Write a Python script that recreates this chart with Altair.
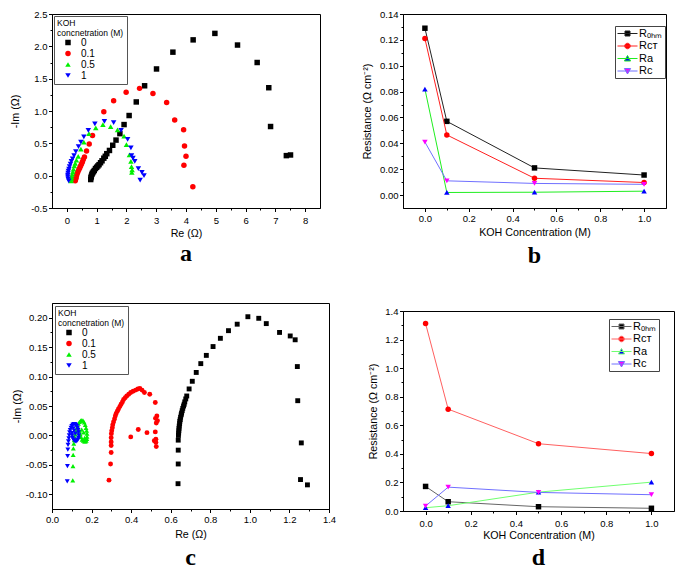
import altair as alt
import pandas as pd

FONT = "Liberation Sans"

# ---------------- panel a : Nyquist (Re, -Im) ----------------
conc_labels = ["0", "0.1", "0.5", "1"]
conc_colors = ["#000000", "#ff0000", "#00f000", "#0000ff"]
conc_shapes = ["square", "circle", "triangle-up", "triangle-down"]

a0 = [(0.80, -0.06), (0.81, -0.03), (0.82, -0.01), (0.84, 0.02), (0.86, 0.04), (0.89, 0.06),
      (0.92, 0.08), (0.96, 0.11), (1.00, 0.13), (1.04, 0.15), (1.08, 0.17), (1.13, 0.20),
      (1.18, 0.23), (1.24, 0.27), (1.29, 0.30), (1.34, 0.34), (1.43, 0.39), (1.54, 0.47),
      (1.65, 0.55), (1.78, 0.65), (1.92, 0.79), (2.09, 0.93), (2.33, 1.14), (2.61, 1.39),
      (3.01, 1.65), (3.56, 1.91), (4.24, 2.10), (4.97, 2.20), (5.73, 2.02), (6.39, 1.75),
      (6.78, 1.36), (6.84, 0.76), (7.37, 0.31), (7.51, 0.32)]
a1 = [(0.28, -0.08), (0.29, -0.06), (0.30, -0.04), (0.31, -0.02), (0.33, 0.01), (0.35, 0.04),
      (0.37, 0.06), (0.40, 0.09), (0.43, 0.12), (0.46, 0.15), (0.49, 0.18), (0.52, 0.21),
      (0.55, 0.25), (0.59, 0.29), (0.66, 0.38), (0.75, 0.49), (0.86, 0.62), (1.24, 0.99),
      (1.57, 1.16), (1.99, 1.29), (2.44, 1.35), (2.89, 1.27), (3.35, 1.13), (3.62, 0.86),
      (3.92, 0.71), (3.95, 0.46), (4.00, 0.30), (3.93, 0.16), (4.23, -0.17)]
a2 = [(0.14, -0.08), (0.15, -0.05), (0.16, -0.02), (0.18, 0.02), (0.20, 0.06), (0.22, 0.10),
      (0.25, 0.15), (0.28, 0.19), (0.32, 0.24), (0.38, 0.30), (0.47, 0.41), (0.57, 0.52),
      (0.74, 0.65), (0.97, 0.74), (1.21, 0.79), (1.47, 0.76), (1.70, 0.71), (1.92, 0.61),
      (2.00, 0.48), (2.10, 0.32), (2.15, 0.22), (2.17, 0.14), (2.19, 0.09), (2.18, 0.05)]
a3 = [(0.06, -0.08), (0.04, -0.05), (0.03, -0.02), (0.03, 0.01), (0.04, 0.04), (0.05, 0.07),
      (0.07, 0.10), (0.09, 0.14), (0.12, 0.18), (0.15, 0.22), (0.19, 0.26), (0.24, 0.31),
      (0.30, 0.37), (0.39, 0.45), (0.47, 0.52), (0.57, 0.60), (0.72, 0.70), (0.94, 0.80),
      (1.26, 0.84), (1.57, 0.82), (1.82, 0.70), (2.04, 0.56), (2.15, 0.43), (2.17, 0.31),
      (2.22, 0.27), (2.28, 0.22), (2.40, 0.11), (2.52, 0.05), (2.59, 0.00), (2.46, -0.07)]
a_xticks = [0, 1, 2, 3, 4, 5, 6, 7, 8]
a_yticks = [-0.5, 0.0, 0.5, 1.0, 1.5, 2.0, 2.5]

# ---------------- panel c : Nyquist ----------------
c0 = [(0.637, -0.082), (0.638, -0.0485), (0.638, -0.025), (0.638, -0.008), (0.639, 0.000),
      (0.640, 0.004), (0.641, 0.008), (0.642, 0.012), (0.643, 0.016), (0.645, 0.020),
      (0.646, 0.024), (0.648, 0.027), (0.650, 0.031), (0.653, 0.035), (0.655, 0.038),
      (0.658, 0.042), (0.661, 0.046), (0.665, 0.050), (0.668, 0.053), (0.671, 0.057),
      (0.676, 0.062), (0.681, 0.067), (0.693, 0.079), (0.709, 0.092), (0.729, 0.107),
      (0.752, 0.122), (0.780, 0.136), (0.814, 0.151), (0.851, 0.165), (0.892, 0.178),
      (0.936, 0.189), (0.990, 0.2017), (1.045, 0.199), (1.083, 0.190), (1.150, 0.175),
      (1.204, 0.169), (1.229, 0.1625), (1.240, 0.117), (1.242, 0.059), (1.260, -0.0127),
      (1.256, -0.075), (1.291, -0.084)]
c1 = [(0.288, -0.076), (0.296, -0.0485), (0.299, -0.029), (0.299, -0.017), (0.299, -0.011),
      (0.299, -0.004), (0.300, 0.003), (0.302, 0.008), (0.305, 0.013), (0.307, 0.018),
      (0.311, 0.023), (0.316, 0.028), (0.320, 0.033), (0.324, 0.037), (0.330, 0.041),
      (0.336, 0.045), (0.343, 0.049), (0.349, 0.053), (0.356, 0.057), (0.362, 0.061),
      (0.370, 0.064), (0.378, 0.067), (0.388, 0.070), (0.398, 0.073), (0.410, 0.075),
      (0.423, 0.077), (0.434, 0.079), (0.444, 0.080), (0.455, 0.077), (0.467, 0.073),
      (0.494, 0.070), (0.522, 0.056), (0.530, 0.033), (0.523, 0.029), (0.533, 0.025),
      (0.527, 0.021), (0.522, 0.006), (0.525, -0.0065), (0.517, -0.009), (0.525, -0.012),
      (0.527, -0.019), (0.436, 0.010), (0.398, -0.0025), (0.480, 0.0047)]
c2 = [(0.105, -0.0765), (0.106, -0.052), (0.107, -0.033), (0.108, -0.022), (0.110, -0.014),
      (0.112, -0.008), (0.115, -0.003), (0.118, 0.002), (0.121, 0.007), (0.125, 0.012),
      (0.129, 0.016), (0.134, 0.020), (0.139, 0.023), (0.145, 0.025), (0.151, 0.026),
      (0.157, 0.025), (0.163, 0.022), (0.168, 0.018), (0.172, 0.013), (0.175, 0.008),
      (0.177, 0.003), (0.177, -0.002), (0.176, -0.006), (0.173, -0.009), (0.169, -0.010),
      (0.164, -0.010), (0.158, -0.009), (0.152, -0.007), (0.147, -0.003), (0.143, 0.002),
      (0.140, 0.007), (0.150, 0.010), (0.160, 0.005), (0.165, -0.004)]
c3 = [(0.077, -0.078), (0.078, -0.052), (0.079, -0.035), (0.080, -0.024), (0.081, -0.016),
      (0.083, -0.010), (0.085, -0.005), (0.087, 0.000), (0.089, 0.005), (0.092, 0.009),
      (0.096, 0.013), (0.100, 0.016), (0.105, 0.018), (0.110, 0.019), (0.115, 0.019),
      (0.120, 0.018), (0.125, 0.016), (0.129, 0.013), (0.132, 0.009), (0.134, 0.005),
      (0.135, 0.000), (0.134, -0.004), (0.131, -0.007), (0.127, -0.009), (0.122, -0.010),
      (0.117, -0.010), (0.112, -0.009), (0.108, -0.007), (0.104, -0.004), (0.102, 0.000),
      (0.101, 0.004), (0.112, 0.008), (0.118, 0.003), (0.108, 0.012)]
c_xticks = [0.0, 0.2, 0.4, 0.6, 0.8, 1.0, 1.2, 1.4]
c_yticks = [-0.10, -0.05, 0.00, 0.05, 0.10, 0.15, 0.20]

# ---------------- panels b, d : resistance vs KOH ----------------
koh = [0.0, 0.1, 0.5, 1.0]
res_names = ["R\u2092\u2095\u2098", "R\u1d04\u1d1b", "Ra", "Rc"]
marker_colors = ["#000000", "#ff0000", "#0000ff", "#ff00ff"]
marker_shapes = ["square", "circle", "triangle-up", "triangle-down"]

b_rohm = [0.129, 0.057, 0.021, 0.0155]
b_rct = [0.121, 0.0465, 0.013, 0.0097]
b_ra = [0.082, 0.002, 0.0022, 0.003]
b_rc = [0.041, 0.011, 0.009, 0.0083]
b_line_colors = ["#222222", "#ff2020", "#20ee20", "#7070ff"]
b_yticks = [0.00, 0.02, 0.04, 0.06, 0.08, 0.10, 0.12, 0.14]

d_rohm = [0.172, 0.065, 0.030, 0.019]
d_rct = [1.312, 0.713, 0.471, 0.402]
d_ra = [0.023, 0.037, 0.132, 0.202]
d_rc = [0.035, 0.167, 0.130, 0.114]
d_line_colors = ["#666666", "#ff6060", "#70ff70", "#7070ff"]
d_yticks = [0.0, 0.2, 0.4, 0.6, 0.8, 1.0, 1.2, 1.4]

koh_xticks = [0.0, 0.2, 0.4, 0.6, 0.8, 1.0]

# legend symbols: short line with marker (unit box scaled by sqrt(size)/2)
legend_paths = [
    "M-2,0L2,0M-0.5,-0.5L0.5,-0.5L0.5,0.5L-0.5,0.5Z",
    "M-2,0L2,0M0.55,0A0.55,0.55,0,1,1,-0.55,0A0.55,0.55,0,1,1,0.55,0Z",
    "M-2,0L2,0M0,-0.6L0.62,0.5L-0.62,0.5Z",
    "M-2,0L2,0M0,0.6L0.62,-0.5L-0.62,-0.5Z",
]

INDEP = dict(color="independent", shape="independent", fill="independent", stroke="independent")


def mk_axis(majors, fmt, label_pad, title_pad):
    step = round(majors[1] - majors[0], 10)
    minors = [round((majors[i] + majors[i + 1]) / 2, 10) for i in range(len(majors) - 1)]
    vals = sorted(majors + minors)
    test = f"abs(datum.value / {step} - round(datum.value / {step})) < 1e-6"
    return alt.Axis(
        values=vals,
        labelExpr=f"{test} ? replace(format(datum.value, '{fmt}'), '\u2212', '-') : ''",
        tickDash={"condition": {"test": test, "value": [10, 0]}, "value": [2, 10]},
        tickSize=3.5,
        labelPadding=label_pad,
        titlePadding=title_pad,
        labelOverlap=False,
        labelFlush=False,
        grid=False,
    )


def letter_title(txt, offset):
    return alt.TitleParams(txt, orient="bottom", anchor="middle", frame="group",
                           font="Liberation Serif", fontSize=24, fontWeight="bold",
                           color="black", offset=offset)


def nyquist(series, xdom, ydom, xt, yt, xfmt, yfmt, w, h, letter, legxy, size,
            xpads, ypads, loff):
    rows = []
    for lab, pts in zip(conc_labels, series):
        for r, i in pts:
            rows.append({"re": r, "im": i, "conc": lab})
    df = pd.DataFrame(rows)
    leg = alt.Legend(orient="none", legendX=legxy[0], legendY=legxy[1], padding=3,
                     fillColor="white", strokeColor="#555555",
                     titleFont=FONT, titleFontSize=8.5, titleFontWeight="normal",
                     titleLineHeight=10, titlePadding=0, titleColor="black",
                     labelFont=FONT, labelFontSize=10, labelColor="black",
                     symbolSize=30, symbolOffset=6, labelOffset=8, rowPadding=1,
                     symbolStrokeWidth=0)
    ttl = ["KOH", "concnetration (M)"]
    return alt.Chart(df).mark_point(filled=True, size=size, opacity=1).encode(
        x=alt.X("re:Q", scale=alt.Scale(domain=xdom, nice=False, zero=False),
                axis=mk_axis(xt, xfmt, *xpads), title="Re (\u03a9)"),
        y=alt.Y("im:Q", scale=alt.Scale(domain=ydom, nice=False, zero=False),
                axis=mk_axis(yt, yfmt, *ypads), title="-Im (\u03a9)"),
        color=alt.Color("conc:N", scale=alt.Scale(domain=conc_labels, range=conc_colors),
                        legend=leg, title=ttl),
        shape=alt.Shape("conc:N", scale=alt.Scale(domain=conc_labels, range=conc_shapes),
                        legend=leg, title=ttl),
    ).properties(width=w, height=h, title=letter_title(letter, loff))


def resist(vals_list, line_colors, ydom, yt, yfmt, w, h, letter, legxy, xpads, ypads, loff):
    xe = alt.X("koh:Q", scale=alt.Scale(domain=[-0.1, 1.1], nice=False, zero=False),
               axis=mk_axis(koh_xticks, ".1f", *xpads), title="KOH Concentration (M)")
    ye = alt.Y("r:Q", scale=alt.Scale(domain=ydom, nice=False, zero=False),
               axis=mk_axis(yt, yfmt, *ypads), title="Resistance (\u03a9 cm\u207b\u00b2)")
    layers = []
    for name, vals, lc, mc, sh in zip(res_names, vals_list, line_colors, marker_colors, marker_shapes):
        df = pd.DataFrame({"koh": koh, "r": vals, "name": name})
        base = alt.Chart(df).encode(x=xe, y=ye)
        layers.append(base.mark_line(color=lc, strokeWidth=1))
        layers.append(base.mark_point(shape=sh, filled=True, color=mc, size=30, opacity=1))
    legdf = pd.DataFrame({"koh": koh, "r": vals_list[0], "name": res_names})
    leg = alt.Legend(orient="none", legendX=legxy[0], legendY=legxy[1], padding=2,
                     fillColor="white", strokeColor="#444444",
                     labelFont=FONT, labelFontSize=11, labelColor="black",
                     symbolSize=100, symbolOffset=5, labelOffset=6, rowPadding=0.5,
                     symbolStrokeWidth=1)
    hidden = alt.Chart(legdf).transform_filter("false").mark_point(filled=True, opacity=1).encode(
        x=xe, y=ye,
        fill=alt.Fill("name:N", scale=alt.Scale(domain=res_names, range=marker_colors),
                      legend=leg, title=None),
        stroke=alt.Stroke("name:N", scale=alt.Scale(domain=res_names, range=line_colors),
                          legend=leg, title=None),
        shape=alt.Shape("name:N", scale=alt.Scale(domain=res_names, range=legend_paths),
                        legend=leg, title=None),
    )
    return alt.layer(*layers, hidden).properties(width=w, height=h,
                                                  title=letter_title(letter, loff))


pa = nyquist([a0, a1, a2, a3], [-0.5, 8.5], [-0.5, 2.5], a_xticks, a_yticks, ".0f", ".1f",
             268, 194, "a", (2, 2), 30, (3.5, 3.9), (1.5, 10.5), 4)
pc = nyquist([c0, c1, c2, c3], [0.0, 1.4], [-0.125, 0.225], c_xticks, c_yticks, ".1f", ".2f",
             277, 206, "c", (3, 3), 24, (1.5, 6), (1.5, 3.3), 7)
pb = resist([b_rohm, b_rct, b_ra, b_rc], b_line_colors, [-0.01, 0.14], b_yticks, ".2f",
            263, 194, "b", (212, 12), (1.5, 5), (1.5, 7.5), 7)
pd_ = resist([d_rohm, d_rct, d_ra, d_rc], d_line_colors, [0.0, 1.4], d_yticks, ".1f",
             271, 200, "d", (206, 8), (3.5, 3.2), (1.5, 6), 6)

col1 = alt.vconcat(pa, pc, spacing=35).resolve_scale(**INDEP).resolve_legend(
    color="independent", shape="independent")
col2 = alt.vconcat(pb, pd_, spacing=36).resolve_scale(**INDEP).resolve_legend(
    fill="independent", stroke="independent", shape="independent")

chart = alt.hconcat(col1, col2, spacing=23).properties(padding=0).resolve_scale(
    **INDEP
).resolve_legend(
    color="independent", shape="independent", fill="independent", stroke="independent"
).configure_view(
    stroke="black", strokeWidth=1
).configure_axis(
    domainColor="black", domainWidth=1, tickColor="black", tickWidth=1,
    labelColor="black", titleColor="black", labelFont=FONT, titleFont=FONT,
    labelFontSize=9.5, titleFontSize=10.7, titleFontWeight="normal",
).configure_legend(
    labelFont=FONT, titleFont=FONT,
)

chart.save("out.html", embed_options={"renderer": "svg", "actions": False})
